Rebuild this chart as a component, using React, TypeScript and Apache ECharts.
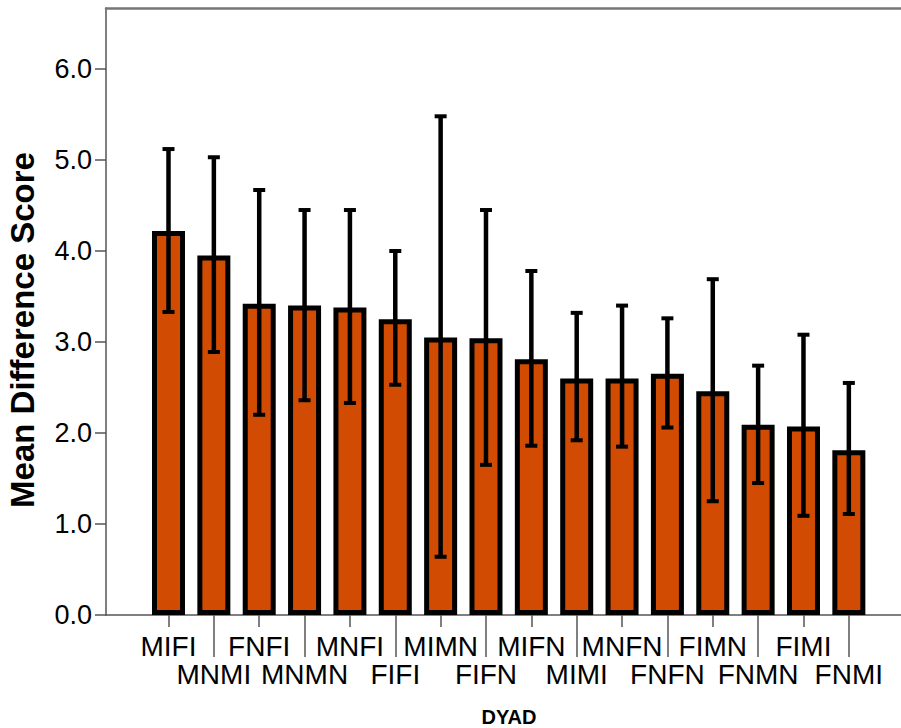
import React, { useEffect, useRef } from "react";
import * as echarts from "echarts";

const categories = ["MIFI", "MNMI", "FNFI", "MNMN", "MNFI", "FIFI", "MIMN", "FIFN", "MIFN", "MIMI", "MNFN", "FNFN", "FIMN", "FNMN", "FIMI", "FNMI"];
const means = [4.22, 3.95, 3.42, 3.40, 3.38, 3.25, 3.05, 3.04, 2.81, 2.60, 2.60, 2.65, 2.46, 2.09, 2.07, 1.81];
const upper = [5.12, 5.03, 4.67, 4.45, 4.45, 4.00, 5.48, 4.45, 3.78, 3.32, 3.40, 3.26, 3.69, 2.74, 3.08, 2.55];
const lower = [3.33, 2.89, 2.20, 2.36, 2.33, 2.53, 0.64, 1.65, 1.86, 1.92, 1.85, 2.06, 1.25, 1.45, 1.09, 1.11];
const yTicks = [0, 1, 2, 3, 4, 5, 6];
const yTitle = "Mean Difference Score";
const xTitle = "DYAD";

const FONT = "Arial, 'Liberation Sans', sans-serif";
const BAR_COLOR = "#d14b03";
const AXIS_COLOR = "#555";

export default function App() {
  const ref = useRef<HTMLDivElement>(null);

  useEffect(() => {
    if (!ref.current) return;
    const chart = echarts.init(ref.current, null, { renderer: "svg" });
    const idx = categories.map((_, i) => i);
    const evenIdx = idx.filter((i) => i % 2 === 0);
    const oddIdx = idx.filter((i) => i % 2 === 1);
    const xMin = -1.378;
    const xMax = 16.15;
    const labelFmt = (v: number) => categories[Math.round(v)] ?? "";

    const option: any = {
      animation: false,
      backgroundColor: "#fff",
      grid: { left: 106, right: 0, top: 8, bottom: 113, containLabel: false },
      xAxis: [
        {
          type: "value",
          position: "bottom",
          min: xMin,
          max: xMax,
          splitLine: { show: false },
          axisLine: { show: true, onZero: false, lineStyle: { color: AXIS_COLOR, width: 1.5 } },
          axisTick: { show: true, customValues: evenIdx, length: 12, lineStyle: { color: AXIS_COLOR, width: 1.5 } },
          axisLabel: {
            customValues: evenIdx,
            formatter: labelFmt,
            margin: 16,
            fontSize: 28,
            lineHeight: 30,
            fontFamily: FONT,
            color: "#000",
          },
        },
        {
          type: "value",
          position: "bottom",
          min: xMin,
          max: xMax,
          splitLine: { show: false },
          axisLine: { show: false, onZero: false },
          axisTick: { show: true, customValues: oddIdx, length: 42, lineStyle: { color: AXIS_COLOR, width: 1.5 } },
          axisLabel: {
            customValues: oddIdx,
            formatter: labelFmt,
            margin: 44,
            fontSize: 28,
            lineHeight: 30,
            fontFamily: FONT,
            color: "#000",
          },
        },
        {
          type: "value",
          position: "top",
          min: xMin,
          max: xMax,
          splitLine: { show: false },
          axisLine: { show: true, onZero: false, lineStyle: { color: "#777", width: 2.5 } },
          axisTick: { show: false },
          axisLabel: { show: false },
        },
      ],
      yAxis: {
        type: "value",
        min: 0,
        max: 6.67,
        interval: 1,
        splitLine: { show: false },
        axisLine: { show: true, onZero: false, lineStyle: { color: AXIS_COLOR, width: 1.5 } },
        axisTick: { show: true, customValues: yTicks, length: 11, lineStyle: { color: AXIS_COLOR, width: 1.5 } },
        axisLabel: {
          customValues: yTicks,
          formatter: (v: number) => v.toFixed(1),
          margin: 14,
          fontSize: 27,
          fontFamily: FONT,
          color: "#000",
        },
      },
      graphic: [
        {
          type: "text",
          x: 22,
          y: 330,
          rotation: Math.PI / 2,
          style: {
            text: yTitle,
            font: `bold 33px ${FONT}`,
            fill: "#000",
            textAlign: "center",
            textVerticalAlign: "middle",
          },
        },
        {
          type: "text",
          x: 509,
          y: 717,
          style: {
            text: xTitle,
            font: `bold 20px ${FONT}`,
            fill: "#000",
            textAlign: "center",
            textVerticalAlign: "middle",
          },
        },
      ],
      series: [
        {
          type: "bar",
          xAxisIndex: 0,
          barWidth: 33,
          data: means.map((m, i) => [i, m]),
          itemStyle: { color: BAR_COLOR, borderColor: "#000", borderWidth: 5 },
          z: 2,
        },
        {
          type: "custom",
          xAxisIndex: 0,
          z: 3,
          data: idx.map((i) => [i, lower[i], upper[i]]),
          renderItem: (params: any, api: any) => {
            const x = api.value(0);
            const lo = api.coord([x, api.value(1)]);
            const hi = api.coord([x, api.value(2)]);
            const half = 6;
            const style = { stroke: "#000", lineWidth: 4.5 };
            return {
              type: "group",
              children: [
                { type: "line", shape: { x1: lo[0], y1: lo[1], x2: hi[0], y2: hi[1] }, style },
                { type: "line", shape: { x1: hi[0] - half, y1: hi[1], x2: hi[0] + half, y2: hi[1] }, style: { stroke: "#000", lineWidth: 4 } },
                { type: "line", shape: { x1: lo[0] - half, y1: lo[1], x2: lo[0] + half, y2: lo[1] }, style: { stroke: "#000", lineWidth: 4 } },
              ],
            };
          },
        },
      ],
    };
    chart.setOption(option);
    return () => chart.dispose();
  }, []);

  return (
    <div
      ref={ref}
      style={{ position: "fixed", left: 0, top: 0, width: 901, height: 728, background: "#fff" }}
    />
  );
}
